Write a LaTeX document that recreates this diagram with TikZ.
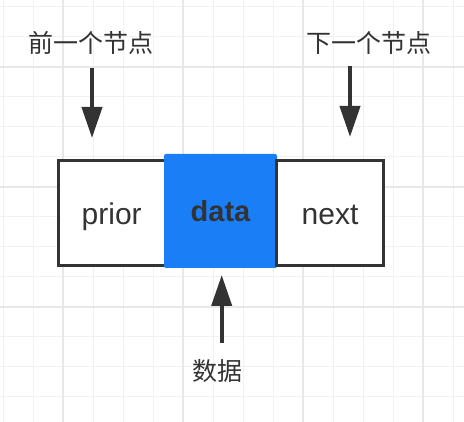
\documentclass[tikz,border=0pt]{standalone}
\usepackage{fontspec}
\setmainfont{Liberation Sans}
\newfontfamily\cjk{Noto Sans CJK SC}
\usetikzlibrary{arrows.meta}
\definecolor{ink}{HTML}{333333}
\definecolor{blu}{RGB}{26,126,246}
\definecolor{gridthin}{HTML}{F1F1F1}
\definecolor{gridthick}{HTML}{E8E8E8}
\tikzset{
  cell/.style={draw=ink, line width=3pt, fill=white, minimum width=107pt, minimum height=104.7pt, inner sep=0pt, text height=25pt, text depth=1.6pt, font=\fontsize{30}{33}\selectfont, text=ink},
  bluecell/.style={fill=blu, rounded corners=2pt, minimum width=113pt, minimum height=114pt, inner sep=0pt, text height=23pt, text depth=1.6pt, font=\bfseries\fontsize{29}{32}\selectfont, text=ink},
  lab/.style={font=\cjk\fontsize{25}{28}\selectfont, text=ink, inner sep=0pt},
  pointer/.style={draw=ink, line width=4pt, -{Triangle[width=20pt,length=31pt]}}
}
\begin{document}
\begin{tikzpicture}[x=1pt,y=-1pt]
\useasboundingbox (0,0) rectangle (464,422);
\fill[white] (0,0) rectangle (464,422);
% grid
\foreach \x in {3,33,...,463} \draw[gridthin, line width=1pt] (\x,0) -- (\x,422);
\foreach \y in {7,37,...,421} \draw[gridthin, line width=1pt] (0,\y) -- (464,\y);
\foreach \x in {63,183,303,423} \draw[gridthick, line width=2pt] (\x,0) -- (\x,422);
\foreach \y in {67,187,307} \draw[gridthick, line width=2pt] (0,\y) -- (464,\y);
% boxes
\node[cell] (prior) at (111.7,212.8) {prior};
\node[bluecell] (data) at (220.5,211) {data};
\node[cell] (next) at (330,212.8) {next};
% labels
\node[lab] (prevlab) at (91,43) {前一个节点};
\node[lab] (nextlab) at (369,43) {下一个节点};
\node[lab] (datalab) at (217,371.5) {数据};
% arrows
\coordinate (a1s) at (92,68);
\coordinate (a1e) at (92,138);
\coordinate (a2s) at (350,66);
\coordinate (a2e) at (350,137);
\coordinate (a3s) at (221.7,343);
\coordinate (a3e) at (221.7,275);
\draw[pointer] (a1s) -- (a1e);
\draw[pointer] (a2s) -- (a2e);
\draw[pointer] (a3s) -- (a3e);
\end{tikzpicture}
\end{document}
